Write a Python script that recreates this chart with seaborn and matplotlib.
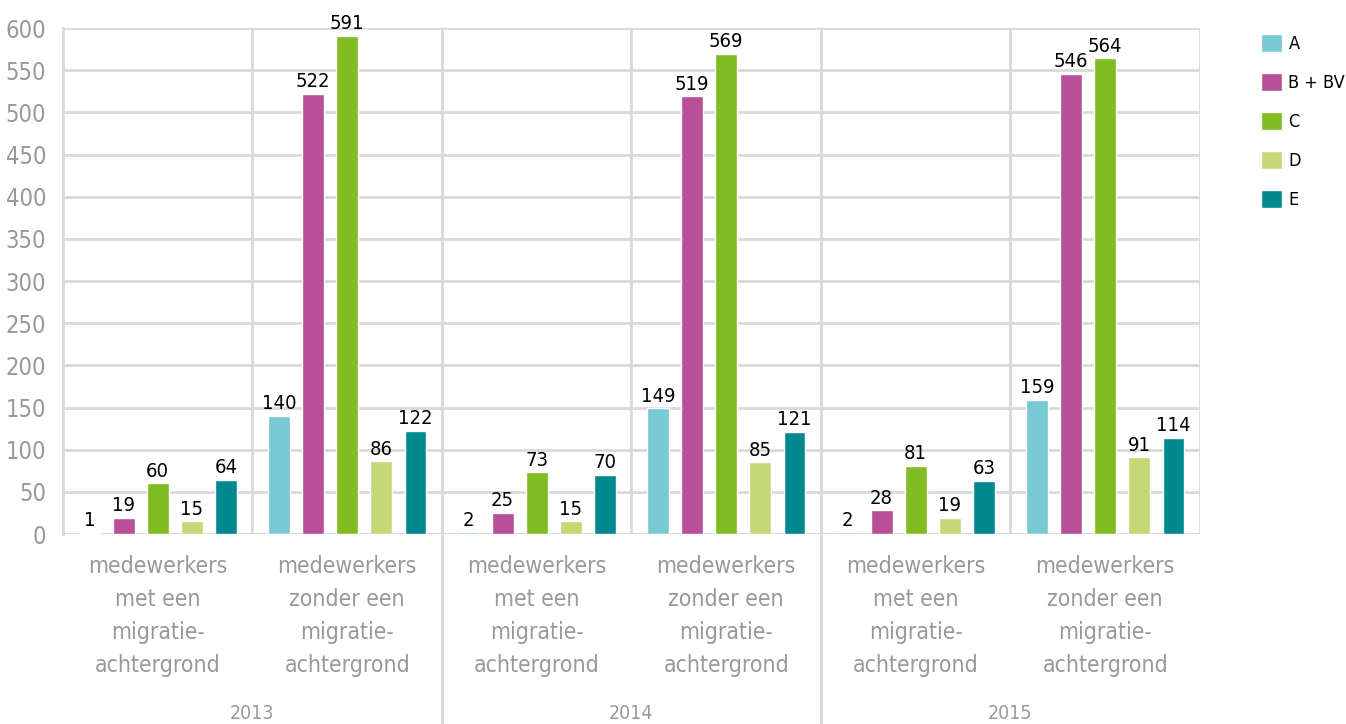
import matplotlib
matplotlib.use('Agg')
import matplotlib.pyplot as plt
import seaborn as sns
import pandas as pd

# data
jaren = ['2013', '2014', '2015']
groepen = ['medewerkers\nmet een\nmigratie-\nachtergrond',
           'medewerkers\nzonder een\nmigratie-\nachtergrond']
klassen = ['A', 'B + BV', 'C', 'D', 'E']
waarden = {
    'A':      [1, 140, 2, 149, 2, 159],
    'B + BV': [19, 522, 25, 519, 28, 546],
    'C':      [60, 591, 73, 569, 81, 564],
    'D':      [15, 86, 15, 85, 19, 91],
    'E':      [64, 122, 70, 121, 63, 114],
}
kleuren = ['#77c9d4', '#b84f98', '#80bc22', '#c5d878', '#008891']

# tabel opbouwen
cats = [f'{j}_{i}' for j in jaren for i in range(len(groepen))]
rows = []
for k in klassen:
    for c, v in zip(cats, waarden[k]):
        rows.append({'cat': c, 'klasse': k, 'waarde': v})
df = pd.DataFrame(rows)

sns.set_style('white')
plt.rcParams['font.family'] = ['DejaVu Sans']
plt.rcParams['font.stretch'] = 'condensed'

fig = plt.figure(figsize=(13.46, 7.24), dpi=100)
ax = fig.add_axes([0.0468, 0.2624, 0.8447, 0.6989])

sns.barplot(data=df, x='cat', y='waarde', hue='klasse', order=cats,
            hue_order=klassen, palette=kleuren, width=0.9, gap=0.36,
            saturation=1, ax=ax, legend=True)

grid = '#d9d9d9'
ax.set_ylim(0, 600)
ax.set_xlim(-0.5, 5.5)
ax.set_yticks(range(0, 601, 50))
ax.yaxis.grid(True, color=grid, lw=2)
ax.set_axisbelow(True)
for s in ['top', 'right', 'bottom']:
    ax.spines[s].set_visible(False)
ax.spines['left'].set_color(grid)
ax.spines['left'].set_linewidth(2)
ax.axhline(0, color=grid, lw=2, zorder=0.5)

for x in [0.5, 2.5, 4.5, 5.5]:
    ax.axvline(x, color=grid, lw=2, zorder=0.5)
for x in [1.5, 3.5]:
    ax.axvline(x, ymin=-0.38, ymax=1, color=grid, lw=2, clip_on=False, zorder=0.5)

ax.set_xticks(range(len(cats)))
ax.set_xticklabels(groepen * len(jaren), fontsize=16.5, color='#999999',
                   linespacing=1.55)
ax.tick_params(axis='x', length=0, pad=15)
ax.tick_params(axis='y', length=0, labelsize=17, labelcolor='#999999', pad=12)
ax.set_xlabel('')
ax.set_ylabel('')

for i, j in enumerate(jaren):
    ax.text(2 * i + 0.5, -0.355, j, transform=ax.get_xaxis_transform(),
            ha='center', va='center', fontsize=14, color='#999999')

for cont in ax.containers:
    ax.bar_label(cont, padding=2, fontsize=14.5, color='black')

leg = ax.legend(loc='upper left', bbox_to_anchor=(1.054, 0.988), frameon=False,
                fontsize=13, handlelength=1.15, handleheight=1.15,
                labelspacing=1.1, handletextpad=0.35, borderaxespad=0,
                borderpad=0)
for t in leg.get_texts():
    t.set_color('black')

fig.savefig('out.png', dpi=100)
